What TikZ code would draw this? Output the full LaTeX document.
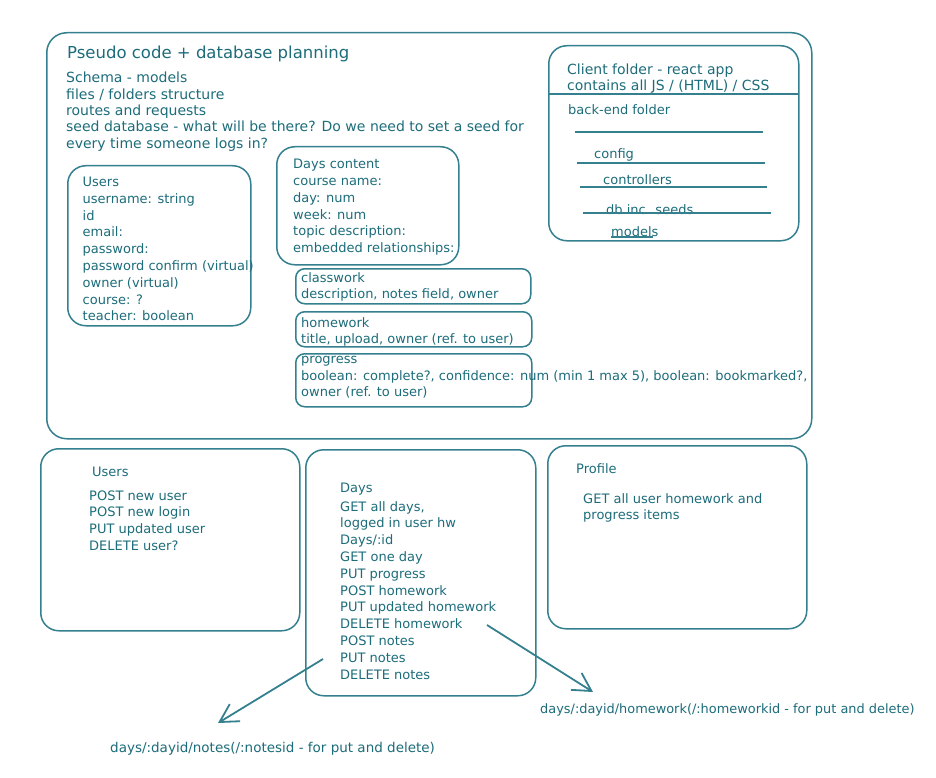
\documentclass[tikz,border=0pt]{standalone}
\usepackage{fontspec}
\setmainfont{DejaVu Sans}
\usetikzlibrary{arrows.meta}

\definecolor{ink}{RGB}{28,108,122}
\definecolor{pen}{RGB}{52,128,142}

\tikzset{
  box/.style={draw=pen, line width=1.5pt, rounded corners=18pt, anchor=north west, inner sep=0pt},
  slot/.style={box, rounded corners=9pt},
  txt/.style={text=ink, anchor=base west, inner sep=0pt, font=\fontsize{13}{15}\selectfont},
  big/.style={txt, font=\fontsize{14}{16}\selectfont},
  rule/.style={draw=pen, line width=1.3pt},
  route/.style={draw=pen, line width=1.8pt, -{Straight Barb[length=18pt,width=20pt]}}
}

\begin{document}
\begin{tikzpicture}[x=1pt,y=-1pt]
\useasboundingbox (0,0) rectangle (936,778);

% planning frame
\node[box, rounded corners=20pt, minimum width=765pt, minimum height=406pt] (frame) at (46,32) {};
\node[txt, font=\fontsize{16.5}{19}\selectfont] (title) at (67,59) {Pseudo code + database planning};
\foreach \t [count=\i] in {Schema - models, files / folders structure, routes and requests,
  seed database - what will be there? Do we need to set a seed for, every time someone logs in?}
  \node[big] (plan-\i) at (66,66.7+16.3*\i) {\t};

% schema: users
\node[box, minimum width=183pt, minimum height=160pt] (usersModel) at (67,165) {};
\foreach \t [count=\i] in {Users, username: string, id, email:, password:, password confirm (virtual),
  owner (virtual), course: ?, teacher: boolean}
  \node[txt] (usr-\i) at (82.5,169.7+16.8*\i) {\t};

% schema: days
\node[box, minimum width=182pt, minimum height=118pt] (daysModel) at (276,146) {};
\foreach \t [count=\i] in {Days content, course name:, day: num, week: num, topic description:,
  embedded relationships:}
  \node[txt] (day-\i) at (293,152.3+16.7*\i) {\t};

% embedded relationships
\node[slot, minimum width=235pt, minimum height=35pt] (classwork) at (295,268) {};
\node[txt] (cw-1) at (301,282) {classwork};
\node[txt] (cw-2) at (301,298.5) {description, notes field, owner};
\node[slot, minimum width=236pt, minimum height=35pt] (homework) at (295,311) {};
\node[txt] (hw-1) at (301,327) {homework};
\node[txt] (hw-2) at (301,343) {title, upload, owner (ref. to user)};
\node[slot, minimum width=236pt, minimum height=53pt] (progress) at (295,353) {};
\node[txt] (pg-1) at (301,363) {progress};
\node[txt] (pg-2) at (301,380) {boolean: complete?, confidence: num (min 1 max 5), boolean: bookmarked?,};
\node[txt] (pg-3) at (301,396) {owner (ref. to user)};

% folders
\node[box, minimum width=250pt, minimum height=195pt] (folders) at (548,45) {};
\draw[rule] (548,94) -- (799,94);
\node[big] (cf-1) at (567,75) {Client folder - react app};
\node[big] (cf-2) at (567,91) {contains all JS / (HTML) / CSS};
\node[txt] (be) at (568,115) {back-end folder};
\draw[rule] (575,132) -- (763,132);
\node[txt] (be-1) at (594,159) {config};
\draw[rule] (577,163) -- (765,163);
\node[txt] (be-2) at (603,185) {controllers};
\draw[rule] (580,187) -- (767,187);
\node[txt] (be-3) at (606,214) {db inc. seeds};
\draw[rule] (583,213) -- (771,213);
\node[txt] (be-4) at (611,236) {models};
\draw[rule] (611,237) -- (653,237);

% routes: users
\node[box, minimum width=259pt, minimum height=182pt] (usersRoutes) at (40,448) {};
\node[txt] (ur-0) at (92,476) {Users};
\foreach \t [count=\i] in {POST new user, POST new login, PUT updated user, DELETE user?}
  \node[txt] (ur-\i) at (89,483.2+16.8*\i) {\t};

% routes: days
\node[box, minimum width=230pt, minimum height=246pt] (daysRoutes) at (305,449) {};
\node[txt] (dr-0) at (340,492) {Days};
\foreach \t [count=\i] in {{GET all days,}, logged in user hw, Days/:id, GET one day, PUT progress,
  POST homework, PUT updated homework, DELETE homework, POST notes, PUT notes, DELETE notes}
  \node[txt] (dr-\i) at (340,494.2+16.8*\i) {\t};

% routes: profile
\node[box, minimum width=259pt, minimum height=183pt] (profile) at (547,445) {};
\node[txt] (pr-0) at (576,473) {Profile};
\node[txt] (pr-1) at (583,503) {GET all user homework and};
\node[txt] (pr-2) at (583,519) {progress items};

% route paths
\coordinate (notesFrom) at (323,659);
\coordinate (notesTo) at (218,723);
\coordinate (hwFrom) at (487,625);
\coordinate (hwTo) at (593,692);
\draw[route] (notesFrom) -- (notesTo);
\draw[route] (hwFrom) -- (hwTo);
\node[txt, font=\fontsize{13.5}{15}\selectfont] (notesPath) at (110,752) {days/:dayid/notes(/:notesid - for put and delete)};
\node[txt, font=\fontsize{12.9}{15}\selectfont] (hwPath) at (540,713) {days/:dayid/homework(/:homeworkid - for put and delete)};
\end{tikzpicture}
\end{document}
